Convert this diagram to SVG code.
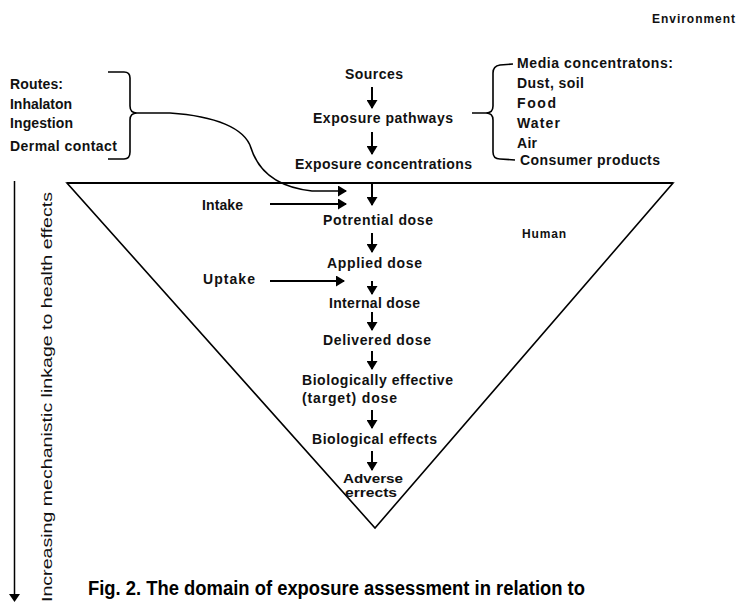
<svg xmlns="http://www.w3.org/2000/svg" width="739" height="605" viewBox="0 0 739 605">
<style>
.t{font-family:"Liberation Sans",Arial,sans-serif;font-weight:bold;font-size:14px;fill:#111}
.s{font-size:12px}
.sm{font-size:12px}
.ln{stroke:#000;stroke-width:2;fill:none}
.br{stroke:#000;stroke-width:1.6;fill:none}
.cap{font-family:"Liberation Sans",Arial,sans-serif;font-weight:bold;font-size:20px;fill:#000}
.vt{font-family:"Liberation Sans",Arial,sans-serif;font-size:15px;fill:#111}
</style>
<defs>
<marker id="ah" markerUnits="userSpaceOnUse" markerWidth="9" markerHeight="11" refX="8" refY="5.5" orient="auto">
<path d="M0,0 L9,5.5 L0,11 z" fill="#000"/>
</marker>
</defs>
<rect width="739" height="605" fill="#fff"/>
<g id="triangle">
<path d="M67,183 L673,183 L375,528 Z" fill="none" stroke="#000" stroke-width="1.6"/>
<line x1="67" y1="183" x2="673" y2="183" stroke="#000" stroke-width="2"/>
</g>
<g id="environment"><text class="t s" x="652" y="23" textLength="83">Environment</text></g>
<g id="human"><text class="t s" x="522" y="238" textLength="44">Human</text></g>
<g id="sources"><text class="t" x="345" y="79" textLength="58">Sources</text></g>
<g id="exposure-pathways"><text class="t" x="313" y="123" textLength="140">Exposure pathways</text></g>
<g id="exposure-concentrations"><text class="t" x="295" y="169" textLength="177">Exposure concentrations</text></g>
<g id="routes">
<text class="t" x="10" y="89" textLength="53">Routes:</text>
<text class="t" x="10" y="109" textLength="62">Inhalaton</text>
<text class="t" x="10" y="128" textLength="63">Ingestion</text>
<text class="t" x="10" y="151" textLength="107">Dermal contact</text>
<path class="br" d="M108,72 L124,72 Q130,72 130,78 L130,106 Q130,113 137,113 Q130,113 130,120 L130,152 Q130,159 124,159 L108,159"/>
</g>
<g id="media">
<text class="t" x="517" y="68" textLength="156">Media concentratons:</text>
<text class="t" x="517" y="88" textLength="67">Dust, soil</text>
<text class="t" x="517" y="108" textLength="39">Food</text>
<text class="t" x="517" y="128" textLength="43">Water</text>
<text class="t" x="517" y="148" textLength="20">Air</text>
<text class="t" x="520" y="165" textLength="140">Consumer products</text>
<path class="br" d="M472,113 L486,113 Q493,113 493,106 L493,73 Q493,66 500,65 L513,64 M486,113 Q493,113 493,120 L493,152 Q493,159 500,159 L515,160"/>
</g>
<g id="intake"><text class="t" x="202" y="210" textLength="41">Intake</text></g>
<g id="uptake"><text class="t" x="203" y="284" textLength="52">Uptake</text></g>
<g id="potential-dose"><text class="t" x="323" y="225" textLength="110">Potrential dose</text></g>
<g id="applied-dose"><text class="t" x="327" y="268" textLength="95">Applied dose</text></g>
<g id="internal-dose"><text class="t" x="329" y="308" textLength="91">Internal dose</text></g>
<g id="delivered-dose"><text class="t" x="323" y="345" textLength="108">Delivered dose</text></g>
<g id="biologically-effective-dose">
<text class="t" x="302" y="385" textLength="151">Biologically effective</text>
<text class="t" x="302" y="403" textLength="95">(target) dose</text>
</g>
<g id="biological-effects"><text class="t" x="312" y="444" textLength="125">Biological effects</text></g>
<g id="adverse-effects">
<text class="t sm" x="343" y="483" textLength="60" lengthAdjust="spacingAndGlyphs">Adverse</text>
<text class="t sm" x="345" y="497" textLength="52" lengthAdjust="spacingAndGlyphs">errects</text>
</g>
<g id="connectors">
<line class="ln" x1="372" y1="87" x2="372" y2="108" marker-end="url(#ah)"/>
<line class="ln" x1="372" y1="132" x2="372" y2="154" marker-end="url(#ah)"/>
<line class="ln" x1="372" y1="183" x2="372" y2="205" marker-end="url(#ah)"/>
<line class="ln" x1="372" y1="233" x2="372" y2="252" marker-end="url(#ah)"/>
<line class="ln" x1="372" y1="281" x2="372" y2="294" marker-end="url(#ah)"/>
<line class="ln" x1="372" y1="312" x2="372" y2="330" marker-end="url(#ah)"/>
<line class="ln" x1="372" y1="351" x2="372" y2="369" marker-end="url(#ah)"/>
<line class="ln" x1="372" y1="410" x2="372" y2="428" marker-end="url(#ah)"/>
<line class="ln" x1="372" y1="451" x2="372" y2="470" marker-end="url(#ah)"/>
<path class="br" d="M137,113 L170,113 C215,116 245,128 251,148 C258,170 275,187 312,191 L346,191" marker-end="url(#ah)"/>
<line class="ln" x1="270" y1="204" x2="346" y2="204" marker-end="url(#ah)"/>
<line class="ln" x1="270" y1="281" x2="344" y2="281" marker-end="url(#ah)"/>
<line x1="14.5" y1="181" x2="14.5" y2="598" stroke="#000" stroke-width="1.5"/>
<path d="M9,594 L20,594 L14.5,602 Z" fill="#000"/>
</g>
<g id="axis-label"><text class="vt" transform="translate(52,602) rotate(-90)" textLength="410" lengthAdjust="spacingAndGlyphs">Increasing mechanistic linkage to health effects</text></g>
<g id="caption"><text class="cap" x="88" y="595" textLength="497" lengthAdjust="spacingAndGlyphs">Fig. 2. The domain of exposure assessment in relation to</text></g>
</svg>
